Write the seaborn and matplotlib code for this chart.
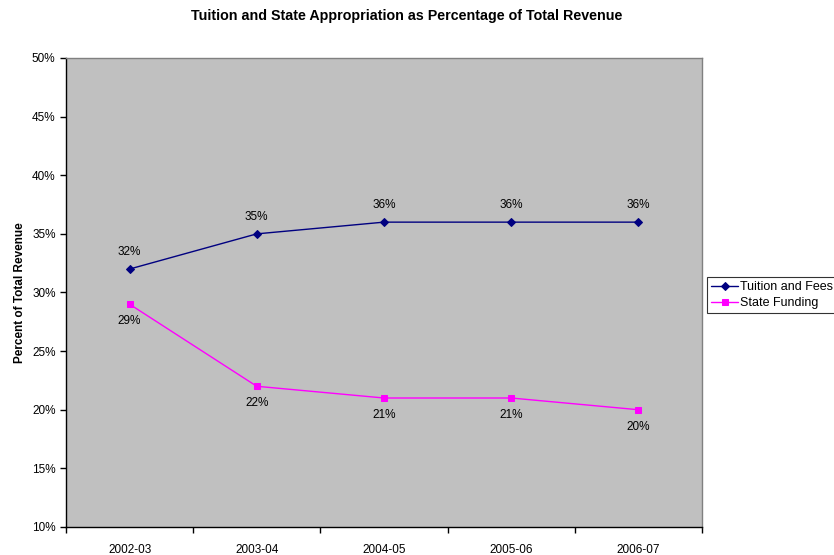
import matplotlib
matplotlib.use("Agg")
import matplotlib.pyplot as plt
import matplotlib.ticker as mticker
import seaborn as sns
import pandas as pd

years = ['2002-03', '2003-04', '2004-05', '2005-06', '2006-07']
tuition = [32, 35, 36, 36, 36]
state = [29, 22, 21, 21, 20]

sns.set_style('white')
plt.rcParams['font.family'] = ['Liberation Sans', 'DejaVu Sans']
plt.rcParams['font.size'] = 8.5
plt.rcParams['text.color'] = 'black'
plt.rcParams['axes.labelcolor'] = 'black'
plt.rcParams['xtick.color'] = 'black'
plt.rcParams['ytick.color'] = 'black'

df = pd.DataFrame({'Year': years * 2,
                   'Pct': tuition + state,
                   'Series': ['Tuition and Fees'] * len(years) + ['State Funding'] * len(years)})

fig = plt.figure(figsize=(8.34, 5.55), dpi=100)
ax = fig.add_axes([0.0791, 0.0505, 0.7626, 0.845])
ax.set_facecolor('#c0c0c0')

palette = {'Tuition and Fees': '#000080', 'State Funding': '#ff00ff'}
markers = {'Tuition and Fees': 'D', 'State Funding': 's'}
for name in ['Tuition and Fees', 'State Funding']:
    sub = df[df['Series'] == name]
    sns.lineplot(data=sub, x='Year', y='Pct', ax=ax, color=palette[name],
                 marker=markers[name], markersize=4 if name == 'Tuition and Fees' else 5,
                 markeredgecolor=palette[name], linewidth=1, label=name, sort=False)

for i, v in enumerate(tuition):
    ax.annotate(f'{v}%', (i, v), xytext=(0, 8), textcoords='offset points',
                ha='center', va='bottom', fontsize=8.5)
for i, v in enumerate(state):
    ax.annotate(f'{v}%', (i, v), xytext=(0, -8), textcoords='offset points',
                ha='center', va='top', fontsize=8.5)

ax.set_xlim(-0.5, 4.5)
ax.set_ylim(10, 50)
ax.yaxis.set_major_locator(mticker.MultipleLocator(5))
ax.yaxis.set_major_formatter(mticker.FuncFormatter(lambda v, p: f'{v:.0f}%'))
ax.set_xticks(range(len(years)))
ax.set_xticklabels(years)
ax.tick_params(axis='x', which='major', length=0, pad=12)
ax.set_xticks([i + 0.5 for i in range(-1, len(years))], minor=True)
ax.tick_params(axis='x', which='minor', bottom=True, length=4, direction='out',
               color='black', width=1)
ax.tick_params(axis='y', length=4, direction='out', color='black', left=True, width=1)
ax.set_xlabel('')
ax.set_ylabel('Percent of Total Revenue', fontweight='bold', fontsize=8.5)

for s in ['top', 'right']:
    ax.spines[s].set_color('#808080')
for s in ['left', 'bottom']:
    ax.spines[s].set_color('black')
for s in ax.spines.values():
    s.set_linewidth(1)

fig.text(0.488, 0.972, 'Tuition and State Appropriation as Percentage of Total Revenue',
         fontweight='bold', fontsize=10.3, ha='center', va='center')

leg = ax.legend(loc='upper left', bbox_to_anchor=(1.008, 0.532), frameon=True,
                fancybox=False, edgecolor='black', fontsize=9, handlelength=2.2,
                handletextpad=0.15, borderpad=0.3, borderaxespad=0, labelspacing=0.3)
leg.get_frame().set_linewidth(0.8)

fig.savefig('out.png', dpi=100)
